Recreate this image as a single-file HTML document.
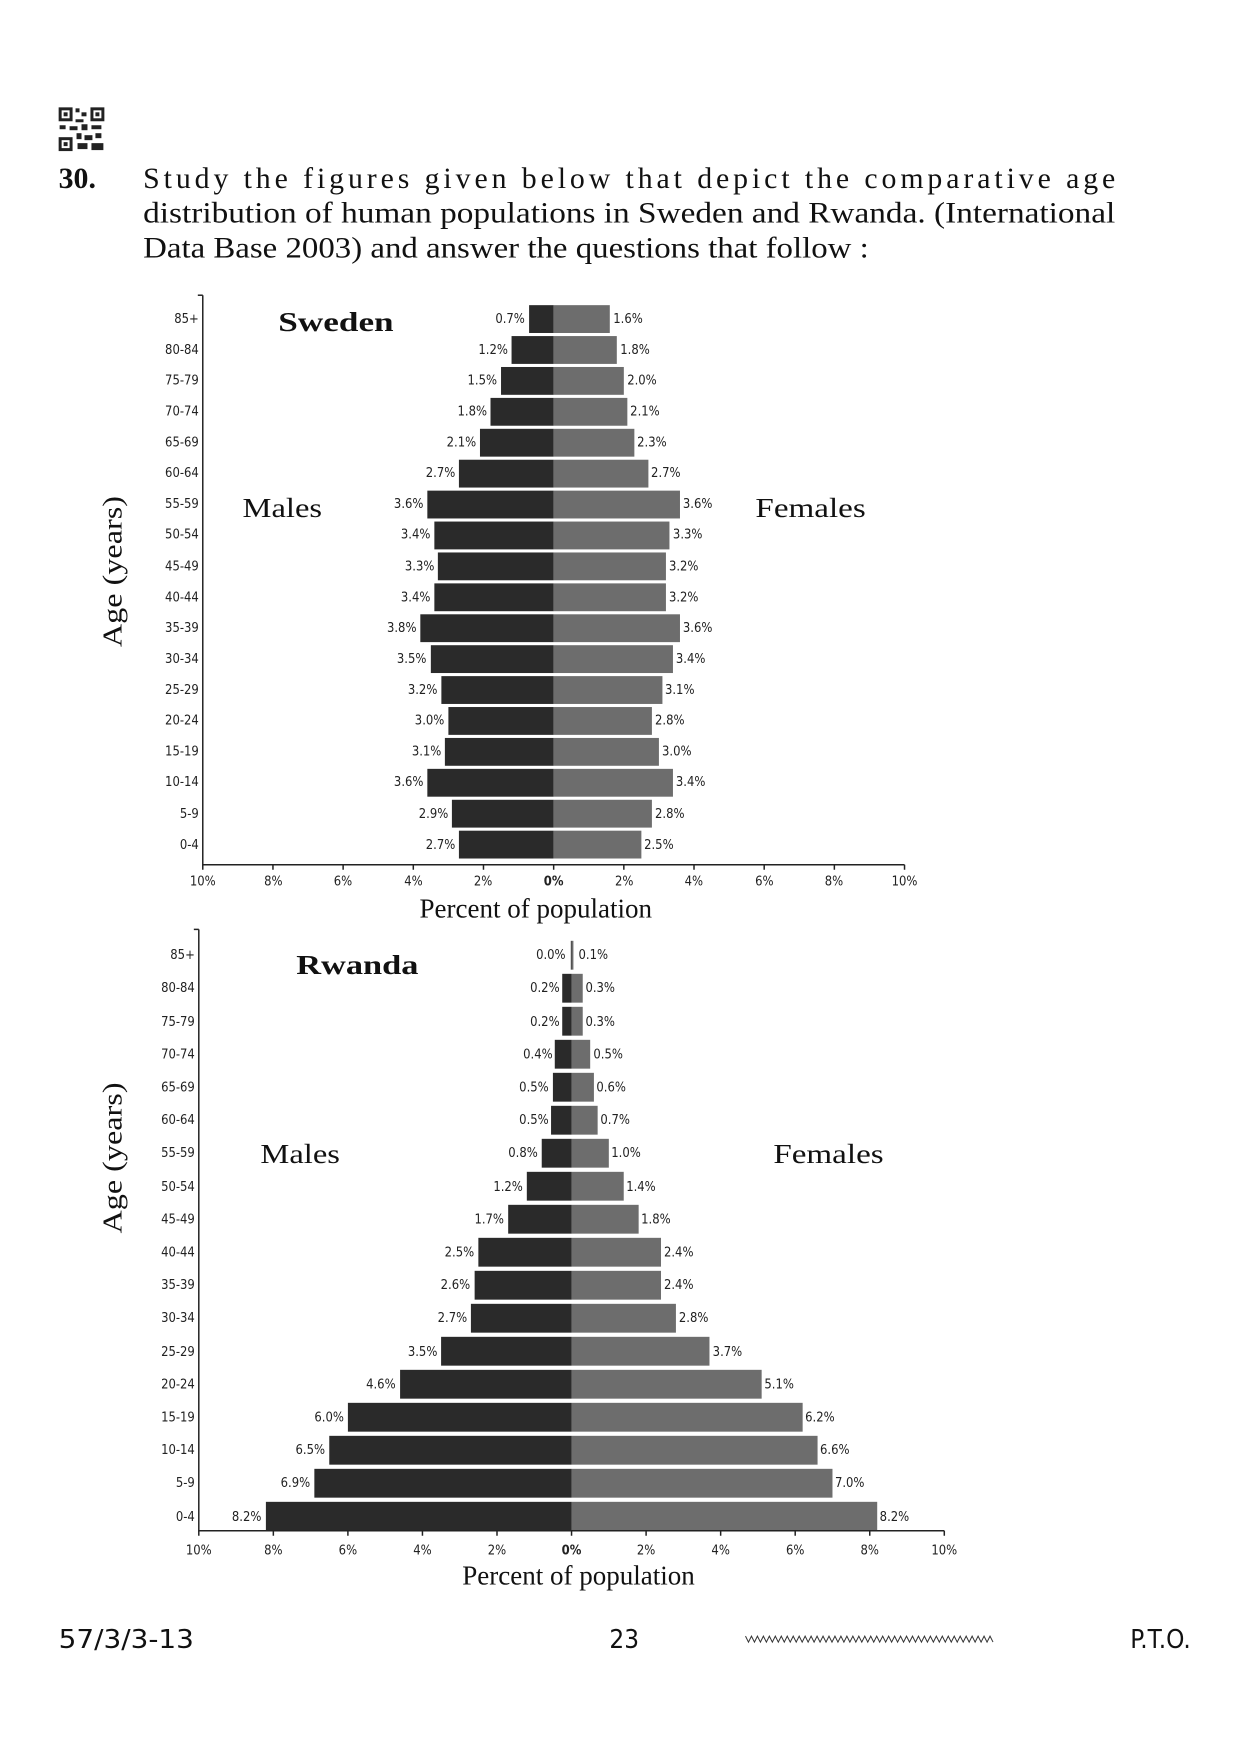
<!DOCTYPE html>
<html><head><meta charset="utf-8"><style>
body{margin:0;background:#fff;}
svg{display:block;}
.q{font-family:"Liberation Serif",serif;font-size:30px;fill:#111;}
.s{font-family:"DejaVu Sans Condensed","DejaVu Sans",sans-serif;font-size:13px;fill:#222;}
.a{font-family:"DejaVu Sans Condensed","DejaVu Sans",sans-serif;font-size:13px;fill:#222;text-anchor:end;}
.t{font-family:"DejaVu Sans Condensed","DejaVu Sans",sans-serif;font-size:13px;fill:#222;text-anchor:middle;}
.lab{font-family:"Liberation Serif",serif;font-size:28px;fill:#111;}
.f{font-family:"DejaVu Sans Condensed","DejaVu Sans",sans-serif;font-size:26px;fill:#111;}
</style></head><body>
<svg width="1241" height="1755" viewBox="0 0 1241 1755" xmlns="http://www.w3.org/2000/svg">
<g transform="scale(0.994)">
<!-- QR -->
<g fill="#222">
<rect x="59" y="108" width="14" height="14"/><rect x="62" y="111" width="8" height="8" fill="#fff"/><rect x="64" y="113" width="4" height="4"/>
<rect x="91" y="108" width="14" height="14"/><rect x="94" y="111" width="8" height="8" fill="#fff"/><rect x="96" y="113" width="4" height="4"/>
<rect x="59" y="138" width="14" height="14"/><rect x="62" y="141" width="8" height="8" fill="#fff"/><rect x="64" y="143" width="4" height="4"/>
<rect x="76" y="109" width="4" height="4"/><rect x="82" y="113" width="5" height="4"/><rect x="76" y="120" width="8" height="3"/>
<rect x="60" y="126" width="6" height="4"/><rect x="70" y="127" width="8" height="4"/><rect x="82" y="125" width="6" height="6"/><rect x="92" y="126" width="10" height="4"/>
<rect x="77" y="134" width="5" height="6"/><rect x="85" y="136" width="8" height="5"/><rect x="96" y="134" width="6" height="5"/><rect x="78" y="144" width="10" height="6"/><rect x="92" y="144" width="12" height="7"/>
</g>
<text class="q" x="59" y="189" font-weight="bold" font-size="28">30.</text>
<text class="q" x="144" y="189" textLength="978" lengthAdjust="spacing">Study the figures given below that depict the comparative age</text>
<text class="q" x="144" y="224" textLength="978" lengthAdjust="spacingAndGlyphs">distribution of human populations in Sweden and Rwanda. (International</text>
<text class="q" x="144" y="259" textLength="730" lengthAdjust="spacingAndGlyphs">Data Base 2003) and answer the questions that follow :</text>

<!-- SWEDEN -->
<g transform="translate(557,307) scale(35.3,1)">
<g fill="#2a2a2a">
<rect x="-0.7" y="0" width="0.7" height="28"/><rect x="-1.2" y="31.1" width="1.2" height="28"/><rect x="-1.5" y="62.2" width="1.5" height="28"/><rect x="-1.8" y="93.3" width="1.8" height="28"/><rect x="-2.1" y="124.4" width="2.1" height="28"/><rect x="-2.7" y="155.5" width="2.7" height="28"/><rect x="-3.6" y="186.6" width="3.6" height="28"/><rect x="-3.4" y="217.7" width="3.4" height="28"/><rect x="-3.3" y="248.8" width="3.3" height="28"/><rect x="-3.4" y="279.9" width="3.4" height="28"/><rect x="-3.8" y="311" width="3.8" height="28"/><rect x="-3.5" y="342.1" width="3.5" height="28"/><rect x="-3.2" y="373.2" width="3.2" height="28"/><rect x="-3.0" y="404.3" width="3.0" height="28"/><rect x="-3.1" y="435.4" width="3.1" height="28"/><rect x="-3.6" y="466.5" width="3.6" height="28"/><rect x="-2.9" y="497.6" width="2.9" height="28"/><rect x="-2.7" y="528.7" width="2.7" height="28"/>
</g>
<g fill="#6d6d6d">
<rect x="0" y="0" width="1.6" height="28"/><rect x="0" y="31.1" width="1.8" height="28"/><rect x="0" y="62.2" width="2.0" height="28"/><rect x="0" y="93.3" width="2.1" height="28"/><rect x="0" y="124.4" width="2.3" height="28"/><rect x="0" y="155.5" width="2.7" height="28"/><rect x="0" y="186.6" width="3.6" height="28"/><rect x="0" y="217.7" width="3.3" height="28"/><rect x="0" y="248.8" width="3.2" height="28"/><rect x="0" y="279.9" width="3.2" height="28"/><rect x="0" y="311" width="3.6" height="28"/><rect x="0" y="342.1" width="3.4" height="28"/><rect x="0" y="373.2" width="3.1" height="28"/><rect x="0" y="404.3" width="2.8" height="28"/><rect x="0" y="435.4" width="3.0" height="28"/><rect x="0" y="466.5" width="3.4" height="28"/><rect x="0" y="497.6" width="2.8" height="28"/><rect x="0" y="528.7" width="2.5" height="28"/>
</g>
</g>
<g stroke="#222" stroke-width="1.5" fill="none">
<path d="M204 297 V870 H910"/><path d="M199 297 H204"/>
<path d="M204 870v5M274.6 870v5M345.2 870v5M415.8 870v5M486.4 870v5M557 870v5M627.6 870v5M698.2 870v5M768.8 870v5M839.4 870v5M910 870v5"/>
</g>
<g class="a">
<text x="200" y="325">85+</text><text x="200" y="356">80-84</text><text x="200" y="387">75-79</text><text x="200" y="418">70-74</text><text x="200" y="449">65-69</text><text x="200" y="480">60-64</text><text x="200" y="511">55-59</text><text x="200" y="542">50-54</text><text x="200" y="574">45-49</text><text x="200" y="605">40-44</text><text x="200" y="636">35-39</text><text x="200" y="667">30-34</text><text x="200" y="698">25-29</text><text x="200" y="729">20-24</text><text x="200" y="760">15-19</text><text x="200" y="791">10-14</text><text x="200" y="823">5-9</text><text x="200" y="854">0-4</text>
</g>
<g class="a">
<text x="528" y="325">0.7%</text><text x="511" y="356">1.2%</text><text x="500" y="387">1.5%</text><text x="490" y="418">1.8%</text><text x="479" y="449">2.1%</text><text x="458" y="480">2.7%</text><text x="426" y="511">3.6%</text><text x="433" y="542">3.4%</text><text x="437" y="574">3.3%</text><text x="433" y="605">3.4%</text><text x="419" y="636">3.8%</text><text x="429" y="667">3.5%</text><text x="440" y="698">3.2%</text><text x="447" y="729">3.0%</text><text x="444" y="760">3.1%</text><text x="426" y="791">3.6%</text><text x="451" y="823">2.9%</text><text x="458" y="854">2.7%</text>
</g>
<g class="s">
<text x="617" y="325">1.6%</text><text x="624" y="356">1.8%</text><text x="631" y="387">2.0%</text><text x="634" y="418">2.1%</text><text x="641" y="449">2.3%</text><text x="655" y="480">2.7%</text><text x="687" y="511">3.6%</text><text x="677" y="542">3.3%</text><text x="673" y="574">3.2%</text><text x="673" y="605">3.2%</text><text x="687" y="636">3.6%</text><text x="680" y="667">3.4%</text><text x="669" y="698">3.1%</text><text x="659" y="729">2.8%</text><text x="666" y="760">3.0%</text><text x="680" y="791">3.4%</text><text x="659" y="823">2.8%</text><text x="648" y="854">2.5%</text>
</g>
<g class="t">
<text x="204" y="891">10%</text><text x="275" y="891">8%</text><text x="345" y="891">6%</text><text x="416" y="891">4%</text><text x="486" y="891">2%</text><text x="557" y="891" font-weight="bold">0%</text><text x="628" y="891">2%</text><text x="698" y="891">4%</text><text x="769" y="891">6%</text><text x="839" y="891">8%</text><text x="910" y="891">10%</text>
</g>
<text class="lab" x="539" y="923" text-anchor="middle" font-size="24" textLength="234" lengthAdjust="spacingAndGlyphs">Percent of population</text>
<text class="lab" x="280" y="333" font-weight="bold" textLength="116" lengthAdjust="spacingAndGlyphs">Sweden</text>
<text class="lab" x="244" y="520" textLength="80" lengthAdjust="spacingAndGlyphs">Males</text>
<text class="lab" x="760" y="520" textLength="111" lengthAdjust="spacingAndGlyphs">Females</text>
<text class="lab" transform="translate(122,575) rotate(-90)" text-anchor="middle" font-size="25" textLength="152" lengthAdjust="spacingAndGlyphs">Age (years)</text>

<!-- RWANDA -->
<g transform="translate(575,946.5) scale(37.5,1)">
<g fill="#2a2a2a">
<rect x="-0.02" y="0" width="0.02" height="29"/><rect x="-0.25" y="33.2" width="0.25" height="29"/><rect x="-0.25" y="66.4" width="0.25" height="29"/><rect x="-0.45" y="99.6" width="0.45" height="29"/><rect x="-0.5" y="132.8" width="0.5" height="29"/><rect x="-0.55" y="166" width="0.55" height="29"/><rect x="-0.8" y="199.2" width="0.8" height="29"/><rect x="-1.2" y="232.4" width="1.2" height="29"/><rect x="-1.7" y="265.6" width="1.7" height="29"/><rect x="-2.5" y="298.8" width="2.5" height="29"/><rect x="-2.6" y="332" width="2.6" height="29"/><rect x="-2.7" y="365.2" width="2.7" height="29"/><rect x="-3.5" y="398.4" width="3.5" height="29"/><rect x="-4.6" y="431.6" width="4.6" height="29"/><rect x="-6.0" y="464.8" width="6.0" height="29"/><rect x="-6.5" y="498" width="6.5" height="29"/><rect x="-6.9" y="531.2" width="6.9" height="29"/><rect x="-8.2" y="564.4" width="8.2" height="29"/>
</g>
<g fill="#6d6d6d">
<rect x="0" y="0" width="0.05" height="29"/><rect x="0" y="33.2" width="0.3" height="29"/><rect x="0" y="66.4" width="0.3" height="29"/><rect x="0" y="99.6" width="0.5" height="29"/><rect x="0" y="132.8" width="0.6" height="29"/><rect x="0" y="166" width="0.7" height="29"/><rect x="0" y="199.2" width="1.0" height="29"/><rect x="0" y="232.4" width="1.4" height="29"/><rect x="0" y="265.6" width="1.8" height="29"/><rect x="0" y="298.8" width="2.4" height="29"/><rect x="0" y="332" width="2.4" height="29"/><rect x="0" y="365.2" width="2.8" height="29"/><rect x="0" y="398.4" width="3.7" height="29"/><rect x="0" y="431.6" width="5.1" height="29"/><rect x="0" y="464.8" width="6.2" height="29"/><rect x="0" y="498" width="6.6" height="29"/><rect x="0" y="531.2" width="7.0" height="29"/><rect x="0" y="564.4" width="8.2" height="29"/>
</g>
</g>
<g stroke="#222" stroke-width="1.5" fill="none">
<path d="M200 935 V1540 H950"/><path d="M195 935 H200"/>
<path d="M200 1540v5M275 1540v5M350 1540v5M425 1540v5M500 1540v5M575 1540v5M650 1540v5M725 1540v5M800 1540v5M875 1540v5M950 1540v5"/>
</g>
<g class="a">
<text x="196" y="965">85+</text><text x="196" y="998">80-84</text><text x="196" y="1032">75-79</text><text x="196" y="1065">70-74</text><text x="196" y="1098">65-69</text><text x="196" y="1131">60-64</text><text x="196" y="1164">55-59</text><text x="196" y="1198">50-54</text><text x="196" y="1231">45-49</text><text x="196" y="1264">40-44</text><text x="196" y="1297">35-39</text><text x="196" y="1330">30-34</text><text x="196" y="1364">25-29</text><text x="196" y="1397">20-24</text><text x="196" y="1430">15-19</text><text x="196" y="1463">10-14</text><text x="196" y="1496">5-9</text><text x="196" y="1530">0-4</text>
</g>
<g class="a">
<text x="569" y="965">0.0%</text><text x="563" y="998">0.2%</text><text x="563" y="1032">0.2%</text><text x="556" y="1065">0.4%</text><text x="552" y="1098">0.5%</text><text x="552" y="1131">0.5%</text><text x="541" y="1164">0.8%</text><text x="526" y="1198">1.2%</text><text x="507" y="1231">1.7%</text><text x="477" y="1264">2.5%</text><text x="473" y="1297">2.6%</text><text x="470" y="1330">2.7%</text><text x="440" y="1364">3.5%</text><text x="398" y="1397">4.6%</text><text x="346" y="1430">6.0%</text><text x="327" y="1463">6.5%</text><text x="312" y="1496">6.9%</text><text x="263" y="1530">8.2%</text>
</g>
<g class="s">
<text x="582" y="965">0.1%</text><text x="589" y="998">0.3%</text><text x="589" y="1032">0.3%</text><text x="597" y="1065">0.5%</text><text x="600" y="1098">0.6%</text><text x="604" y="1131">0.7%</text><text x="615" y="1164">1.0%</text><text x="630" y="1198">1.4%</text><text x="645" y="1231">1.8%</text><text x="668" y="1264">2.4%</text><text x="668" y="1297">2.4%</text><text x="683" y="1330">2.8%</text><text x="717" y="1364">3.7%</text><text x="769" y="1397">5.1%</text><text x="810" y="1430">6.2%</text><text x="825" y="1463">6.6%</text><text x="840" y="1496">7.0%</text><text x="885" y="1530">8.2%</text>
</g>
<g class="t">
<text x="200" y="1564">10%</text><text x="275" y="1564">8%</text><text x="350" y="1564">6%</text><text x="425" y="1564">4%</text><text x="500" y="1564">2%</text><text x="575" y="1564" font-weight="bold">0%</text><text x="650" y="1564">2%</text><text x="725" y="1564">4%</text><text x="800" y="1564">6%</text><text x="875" y="1564">8%</text><text x="950" y="1564">10%</text>
</g>
<text class="lab" x="582" y="1594" text-anchor="middle" font-size="24" textLength="234" lengthAdjust="spacingAndGlyphs">Percent of population</text>
<text class="lab" x="298" y="980" font-weight="bold" textLength="123" lengthAdjust="spacingAndGlyphs">Rwanda</text>
<text class="lab" x="262" y="1170" textLength="80" lengthAdjust="spacingAndGlyphs">Males</text>
<text class="lab" x="778" y="1170" textLength="111" lengthAdjust="spacingAndGlyphs">Females</text>
<text class="lab" transform="translate(122,1165) rotate(-90)" text-anchor="middle" font-size="25" textLength="152" lengthAdjust="spacingAndGlyphs">Age (years)</text>

<!-- footer -->
<text class="f" x="59" y="1658" textLength="136" lengthAdjust="spacingAndGlyphs">57/3/3-13</text>
<text class="f" x="628" y="1658" text-anchor="middle">23</text>
<polyline fill="none" stroke="#333" stroke-width="1" points="750,1646 753,1652 756,1646 759,1652 762,1646 765,1652 768,1646 771,1652 774,1646 777,1652 780,1646 783,1652 786,1646 789,1652 792,1646 795,1652 798,1646 801,1652 804,1646 807,1652 810,1646 813,1652 816,1646 819,1652 822,1646 825,1652 828,1646 831,1652 834,1646 837,1652 840,1646 843,1652 846,1646 849,1652 852,1646 855,1652 858,1646 861,1652 864,1646 867,1652 870,1646 873,1652 876,1646 879,1652 882,1646 885,1652 888,1646 891,1652 894,1646 897,1652 900,1646 903,1652 906,1646 909,1652 912,1646 915,1652 918,1646 921,1652 924,1646 927,1652 930,1646 933,1652 936,1646 939,1652 942,1646 945,1652 948,1646 951,1652 954,1646 957,1652 960,1646 963,1652 966,1646 969,1652 972,1646 975,1652 978,1646 981,1652 984,1646 987,1652 990,1646 993,1652 996,1646 999,1652"/>
<text class="f" x="1198" y="1658" text-anchor="end">P.T.O.</text>
</g>
</svg>
</body></html>
